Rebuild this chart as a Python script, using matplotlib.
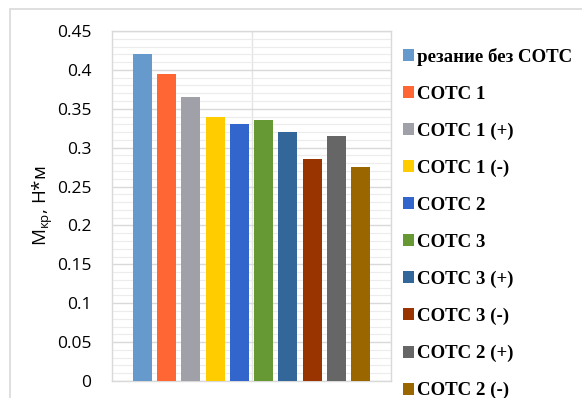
import numpy as np
import matplotlib
matplotlib.use('Agg')
import matplotlib.pyplot as plt
from matplotlib.patches import Rectangle

plt.rcParams['mathtext.fontset'] = 'custom'
plt.rcParams['mathtext.rm'] = 'Open Sans'
plt.rcParams['mathtext.it'] = 'Open Sans:italic'

# data
series = ['резание без СОТС', 'СОТС 1', 'СОТС 1 (+)', 'СОТС 1 (-)', 'СОТС 2',
          'СОТС 3', 'СОТС 3 (+)', 'СОТС 3 (-)', 'СОТС 2 (+)', 'СОТС 2 (-)']
values = [0.42, 0.395, 0.365, 0.34, 0.33, 0.335, 0.32, 0.285, 0.315, 0.275]
colors = ['#6699CC', '#FF6633', '#A0A0A8', '#FFCC00', '#3366CC',
          '#669933', '#336699', '#993300', '#666666', '#996600']
yticks = [0, 0.05, 0.1, 0.15, 0.2, 0.25, 0.3, 0.35, 0.4, 0.45]
ytick_labels = ['0', '0.05', '0.1', '0.15', '0.2', '0.25', '0.3', '0.35', '0.4', '0.45']

fig = plt.figure(figsize=(5.82, 3.98), dpi=100)
# outer chart border (partly cropped)
fig.patches.append(Rectangle((10 / 582, -0.1), 1.0, 1 - 9 / 398 + 0.1,
                             transform=fig.transFigure, fill=False,
                             edgecolor='#d9d9d9', linewidth=1.2))

ax = fig.add_axes([112 / 582, 17 / 398, 279 / 582, 350 / 398])

pitch = 0.0871
width = 0.068
handles = []
for i, (name, v, c) in enumerate(zip(series, values, colors)):
    b = ax.bar((i - 4.5) * pitch, v, width=width, color=c, label=name, zorder=3)
    handles.append(b)

ax.set_xlim(-0.5, 0.5)
ax.set_ylim(0, 0.45)
ax.set_yticks(yticks)
ax.set_yticklabels(ytick_labels, fontfamily='Open Sans', fontsize=12.5)
ax.set_yticks(np.arange(0, 0.451, 0.01), minor=True)
ax.set_xticks([])
ax.tick_params(axis='y', which='both', length=0, pad=15)
ax.grid(axis='y', which='major', color='#d9d9d9', linewidth=1.0, zorder=0)
ax.grid(axis='y', which='minor', color='#ececec', linewidth=0.8, zorder=0)
ax.axvline(0, color='#e4e4e4', linewidth=1.0, zorder=0)
for s in ax.spines.values():
    s.set_color('#d9d9d9')
    s.set_linewidth(1.0)

ax.set_ylabel('М$_\\mathrm{кр}$, Н*м', fontfamily='Open Sans', fontsize=13.5, labelpad=1)

fig.legend(handles=handles, loc='upper left', bbox_to_anchor=(403 / 582, 1 - 48 / 398),
           frameon=False, prop={'family': 'Liberation Serif', 'weight': 'bold', 'size': 13.6},
           handlelength=0.6, handleheight=0.6, handletextpad=0.12,
           labelspacing=1.05, borderpad=0, borderaxespad=0)

fig.savefig('out.png', dpi=100)
